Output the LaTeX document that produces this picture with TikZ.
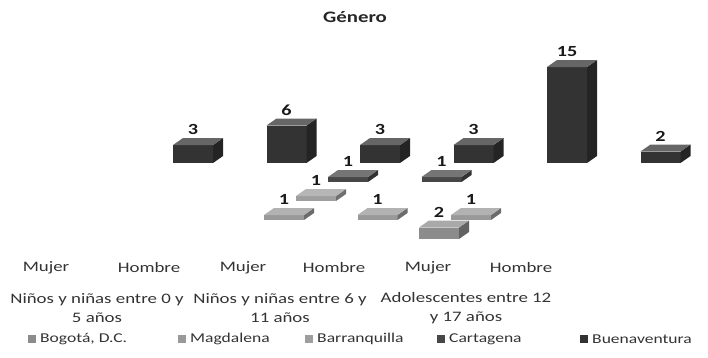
\documentclass[tikz,border=0pt]{standalone}
\usepackage{fontspec}
\setmainfont{Carlito}[FakeStretch=1.3]
\usepackage{tikz}

\colorlet{bogota}{black!45}
\colorlet{magdalena}{black!40}
\colorlet{barranquilla}{black!38}
\colorlet{cartagena}{black!72}
\colorlet{buenaventura}{black!80}

% one 3D column: x, base, value, colour, name
\newcommand{\genbar}[5]{%
  \pgfmathsetmacro{\barh}{6.5*#3-1.5}
  \pgfmathsetmacro{\bartop}{#2-\barh}
  \fill[#4] (#1,#2) rectangle (#1+40,\bartop);
  \fill[#4!70!black] (#1+40,#2) -- (#1+40,\bartop) -- (#1+50,\bartop-7) -- (#1+50,#2-7) -- cycle;
  \fill[#4!75!white] (#1,\bartop) -- (#1+10,\bartop-7) -- (#1+50,\bartop-7) -- (#1+40,\bartop) -- cycle;
  \node[valor,anchor=south] (#5) at (#1+20,\bartop-10) {#3};
}

\begin{document}
\begin{tikzpicture}[x=1pt,y=-1pt,
  titulo/.style={font=\fontsize{16}{18}\selectfont\bfseries,text=black!85},
  valor/.style={font=\fontsize{15.5}{17}\selectfont\bfseries,text=black!90,inner sep=0pt},
  categoria/.style={font=\fontsize{14.5}{17}\selectfont,text=black!80},
  grupo/.style={font=\fontsize{14.5}{19}\selectfont,text=black!80,align=center},
  leyenda/.style={font=\fontsize{13.5}{16}\selectfont,text=black!80,anchor=west,inner sep=0pt}]

\useasboundingbox (0,0) rectangle (708,357);

% Title
\node[titulo] (titulo) at (355,17) {Género};

% Buenaventura (back row)
\genbar{173}{163}{3}{buenaventura}{bu1}
\genbar{266.5}{163}{6}{buenaventura}{bu2}
\genbar{360}{163}{3}{buenaventura}{bu3}
\genbar{453.5}{163}{3}{buenaventura}{bu4}
\genbar{547}{163}{15}{buenaventura}{bu5}
\genbar{640.5}{163}{2}{buenaventura}{bu6}

% Cartagena
\genbar{328}{182}{1}{cartagena}{ca3}
\genbar{421.5}{182}{1}{cartagena}{ca4}

% Barranquilla
\genbar{296}{201}{1}{barranquilla}{ba3}

% Magdalena
\genbar{264}{220}{1}{magdalena}{ma3}
\genbar{357.5}{220}{1}{magdalena}{ma4}
\genbar{451}{220}{1}{magdalena}{ma5}

% Bogota (front row)
\genbar{419}{239}{2}{bogota}{bo5}

% Axis labels
\node[categoria] (m1) at (46,268) {Mujer};
\node[categoria] (h1) at (149,268) {Hombre};
\node[categoria] (m2) at (243,268) {Mujer};
\node[categoria] (h2) at (334,268) {Hombre};
\node[categoria] (m3) at (428,268) {Mujer};
\node[categoria] (h3) at (521,268) {Hombre};

\node[grupo] (g1) at (97,308) {Niños y niñas entre 0 y\\5 años};
\node[grupo] (g2) at (280,308) {Niños y niñas entre 6 y\\11 años};
\node[grupo] (g3) at (466,308) {Adolescentes entre 12\\y 17 años};

% Legend
\fill[bogota] (28,335) rectangle (36,343);
\node[leyenda] (lbo) at (40,339) {Bogotá, D.C.};
\fill[magdalena] (178,335) rectangle (186,343);
\node[leyenda] (lma) at (190,339) {Magdalena};
\fill[barranquilla] (305,335) rectangle (313,343);
\node[leyenda] (lba) at (317,339) {Barranquilla};
\fill[cartagena] (437,335) rectangle (445,343);
\node[leyenda] (lca) at (449,339) {Cartagena};
\fill[buenaventura] (580,335) rectangle (588,343);
\node[leyenda] (lbu) at (592,339) {Buenaventura};

\end{tikzpicture}
\end{document}
